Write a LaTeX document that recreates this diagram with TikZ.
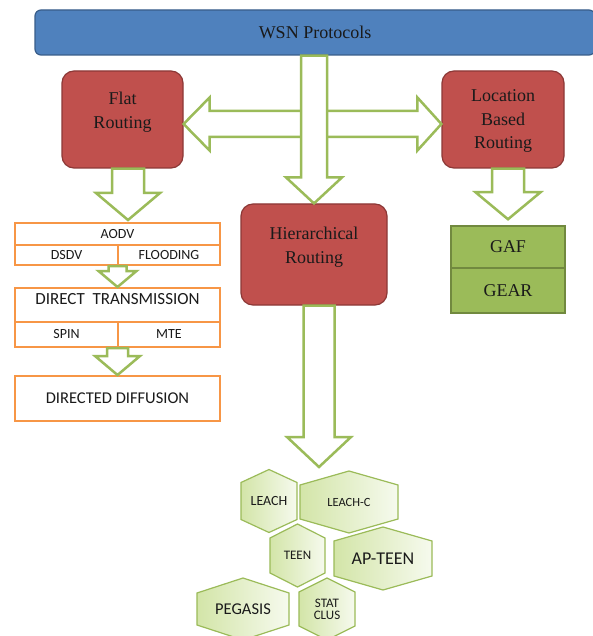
\documentclass[tikz,border=0pt]{standalone}
\usepackage{fontspec}
\setmainfont{Liberation Serif}
\newfontfamily\calib{Carlito}
\usetikzlibrary{calc}
\definecolor{wsnblue}{HTML}{4F81BD}
\definecolor{wsnblueD}{HTML}{385D8A}
\definecolor{redfill}{HTML}{C0504D}
\definecolor{redline}{HTML}{8C3836}
\definecolor{arrgreen}{HTML}{9BBB59}
\definecolor{gafgreen}{HTML}{9BBB59}
\definecolor{gafgreenD}{HTML}{71893F}
\definecolor{orangeln}{HTML}{F79646}
\definecolor{hexL}{HTML}{D3E5A8}
\definecolor{hexR}{HTML}{F6FAEE}
\definecolor{txtdark}{HTML}{1A1A1A}

\tikzset{
 redbox/.style={draw=redline, fill=redfill, line width=1.2pt, rounded corners=12pt, inner sep=0pt},
 redtxt/.style={align=center, inner sep=0pt, text=txtdark, font=\fontsize{18}{23.5}\selectfont},
 blockarr/.style={draw=arrgreen, fill=white, line width=2.5pt, line join=miter},
 cell/.style={draw=orangeln, fill=white, line width=2pt, inner sep=0pt, text=txtdark, font=\calib\fontsize{14}{16}\selectfont},
 gcell/.style={draw=gafgreenD, fill=gafgreen, line width=1.5pt, inner sep=0pt, minimum width=114pt, text=txtdark, font=\fontsize{18}{20}\selectfont},
 hexa/.style={draw=arrgreen, line width=1.2pt, left color=hexL, right color=hexR},
 hextxt/.style={align=center, inner sep=0pt, text=txtdark},
}

\newcommand\blkdown[5]{%
 \draw[blockarr] let \p1=(#1), \p2=(#2) in
 (\x2-#3pt,\y1) -- (\x2-#3pt,\y2+#5pt) -- (\x2-#4pt,\y2+#5pt) -- (\x2,\y2) --
 (\x2+#4pt,\y2+#5pt) -- (\x2+#3pt,\y2+#5pt) -- (\x2+#3pt,\y1) -- cycle;}

\newcommand\hexcell[8]{%
 \path[hexa] (#2,#3-#5) -- (#2+#4,#3-#5+#6) -- (#2+#4,#3+#5-#6) -- (#2,#3+#5) --
 (#2-#4,#3+#5-#6) -- (#2-#4,#3-#5+#6) -- cycle;
 \node[hextxt, font=\calib\fontsize{#7}{12}\selectfont] (#1) at (#2,#3) {#8};}

\begin{document}
\begin{tikzpicture}[x=1pt, y=-1pt]
\clip (0,0) rectangle (593,636);
\fill[white] (0,0) rectangle (593,636);

% top bar
\node[draw=wsnblueD, fill=wsnblue, line width=1.2pt, rounded corners=6pt,
      minimum width=560pt, minimum height=45pt, inner sep=0pt, text=txtdark,
      font=\fontsize{18}{20}\selectfont] (wsn) at (315,32.5) {WSN Protocols};

% red boxes
\node[redbox, minimum width=121pt, minimum height=97pt] (flat) at (122.5,119.5) {};
\node[redbox, minimum width=122pt, minimum height=97pt] (loc) at (503,119.5) {};
\node[redbox, minimum width=146pt, minimum height=101pt] (hier) at (314,254.5) {};

% orange group
\node[cell, minimum width=205pt, minimum height=22pt] (aodv) at (117.5,234) {AODV};
\node[cell, minimum width=103pt, minimum height=20pt] (dsdv) at (66.5,255) {DSDV};
\node[cell, minimum width=102pt, minimum height=20pt] (flooding) at (169,255) {FLOODING};
\node[cell, minimum width=205pt, minimum height=34pt] (dt) at (117.5,305) {};
\node[cell, draw=none, fill=none, font=\calib\fontsize{17}{19}\selectfont] (dtl) at (117.5,299) {DIRECT\ \ TRANSMISSION};
\node[cell, minimum width=103pt, minimum height=25pt] (spin) at (66.5,334.5) {SPIN};
\node[cell, minimum width=102pt, minimum height=25pt] (mte) at (169,334.5) {MTE};
\node[cell, minimum width=205pt, minimum height=45pt, font=\calib\fontsize{16.5}{18}\selectfont] (dd) at (117.5,398.5) {DIRECTED DIFFUSION};

% green boxes
\node[gcell, minimum height=42pt] (gaf) at (508,247) {GAF};
\node[gcell, minimum height=45pt] (gear) at (508,290.5) {GEAR};

% hexagons
\coordinate (hexgrp) at (319,467);
\hexcell{leach}{269}{501}{28}{31.5}{13}{14}{LEACH}
\hexcell{leachc}{349}{502}{49}{31}{14}{12.5}{LEACH-C}
\hexcell{teen}{297.5}{555.5}{27.5}{31.5}{14}{13}{TEEN}
\hexcell{apteen}{383}{558.5}{49}{31.5}{14}{18}{AP-TEEN}
\hexcell{pegasis}{243}{609}{46}{31}{15}{16.5}{PEGASIS}
\hexcell{statclus}{327}{609}{28}{31}{14}{13}{STAT\\CLUS}

% connectors
\coordinate (hlev) at (0,124);
\draw[blockarr] let \p1=(flat.east |- hlev), \p2=(loc.west |- hlev) in
 (\x1,\y1) -- (\x1+26pt,\y1+26.5pt) -- (\x1+26pt,\y1+13pt) -- (\x2-24pt,\y1+13pt) --
 (\x2-24pt,\y1+26.5pt) -- (\x2,\y1) -- (\x2-24pt,\y1-26.5pt) -- (\x2-24pt,\y1-13pt) --
 (\x1+26pt,\y1-13pt) -- (\x1+26pt,\y1-26.5pt) -- cycle;
\blkdown{wsn.south}{hier.north}{13}{28}{26}
\blkdown{flat.south}{[xshift=10.5pt,yshift=2pt]aodv.north}{16}{32}{27}
\blkdown{dsdv.south}{dt.north}{9}{19}{16}
\blkdown{spin.south}{dd.north}{10.5}{22.5}{19}
\blkdown{loc.south}{[yshift=6pt]gaf.north}{16}{32.5}{27}
\blkdown{hier.south}{hexgrp}{15.5}{32}{30}

% red box texts
\node[redtxt] (flatl) at (122.5,112) {Flat\\Routing};
\node[redtxt] (locl) at (503,121) {Location\\Based\\Routing};
\node[redtxt] (hierl) at (314,247) {Hierarchical\\Routing};
\end{tikzpicture}
\end{document}
